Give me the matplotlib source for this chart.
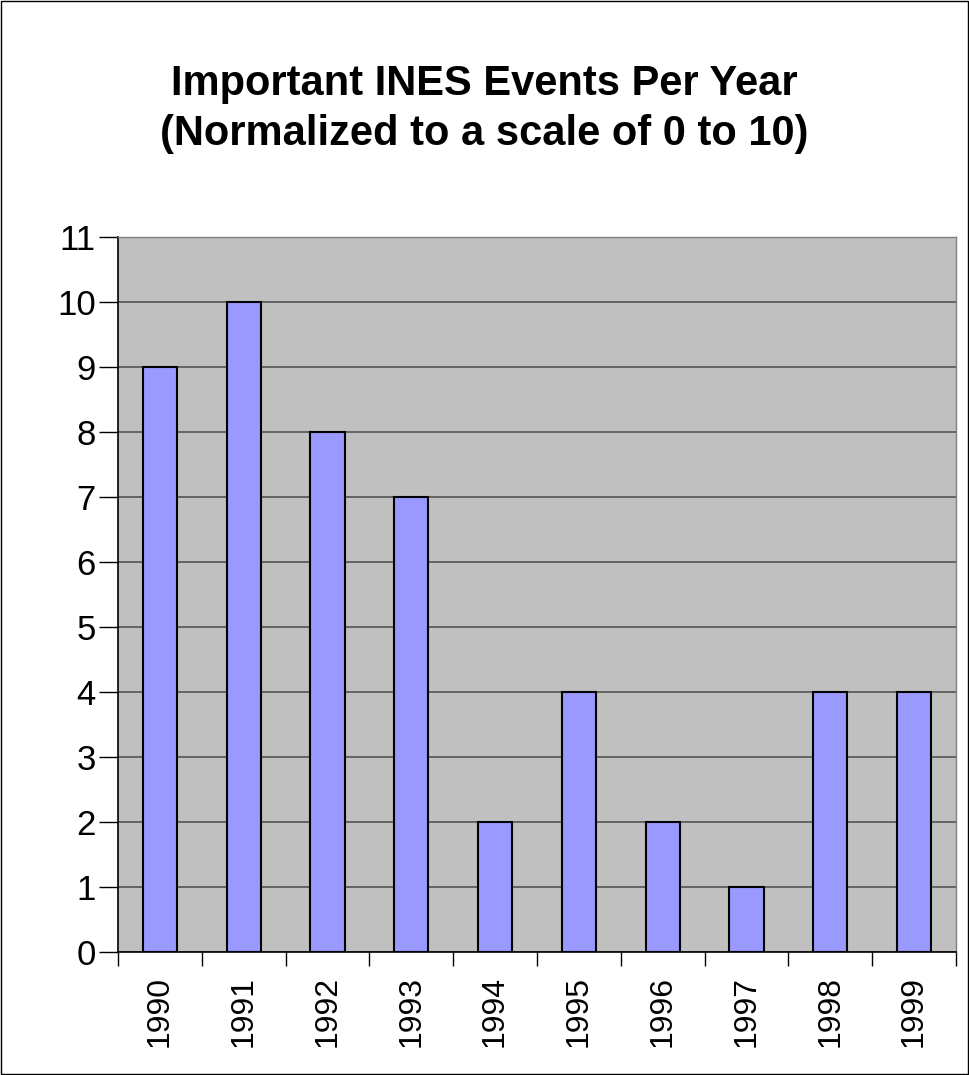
import numpy as np
import matplotlib
matplotlib.use("Agg")
import matplotlib.pyplot as plt
from matplotlib.patches import Rectangle

plt.rcParams['font.family'] = ['Liberation Sans', 'DejaVu Sans']

years = ['1990', '1991', '1992', '1993', '1994', '1995', '1996', '1997', '1998', '1999']
events = [9, 10, 8, 7, 2, 4, 2, 1, 4, 4]

fig = plt.figure(figsize=(9.69, 10.75), dpi=100)
# outer chart border
fig.patches.append(Rectangle((0.001, 0.001), 0.998, 0.998, transform=fig.transFigure,
                             fill=False, edgecolor='black', linewidth=1))

ax = fig.add_axes([0.1218, 0.1144, 0.8648, 0.6651])
ax.set_facecolor('#C0C0C0')

x = np.arange(len(years))
ax.bar(x, events, width=0.41, color='#9999FF', edgecolor='black', linewidth=1.5, zorder=3)

ax.set_xlim(-0.5, len(years) - 0.5)
ax.set_ylim(0, 11)
ax.set_yticks(range(0, 12))
ax.tick_params(axis='y', labelsize=25, length=14, width=1, direction='out', pad=2)
ax.yaxis.grid(True, color='#555555', linewidth=1.2, zorder=1)
ax.set_axisbelow(True)

# ticks between categories, labels centered under bars
ax.set_xticks(np.arange(-0.5, len(years), 1.0))
ax.set_xticklabels([])
ax.set_xticks(x, minor=True)
ax.set_xticklabels(years, minor=True, rotation=90, fontsize=23)
ax.tick_params(axis='x', which='major', length=10, width=1, direction='out')
ax.tick_params(axis='x', which='minor', length=0, pad=17)

for side in ['left', 'bottom']:
    ax.spines[side].set_color('black')
    ax.spines[side].set_linewidth(1.2)
for side in ['top', 'right']:
    ax.spines[side].set_color('#808080')
    ax.spines[side].set_linewidth(1)

fig.text(0.5, 0.8986, 'Important INES Events Per Year\n(Normalized to a scale of 0 to 10)',
         ha='center', va='center', fontsize=30, fontweight='bold', linespacing=1.3)

fig.savefig('out.png', dpi=100)
